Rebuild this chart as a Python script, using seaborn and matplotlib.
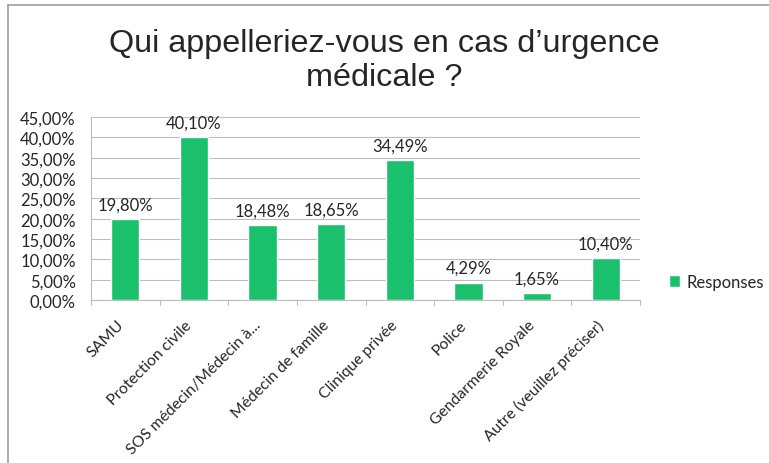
import pandas as pd
import seaborn as sns
import matplotlib.pyplot as plt
from matplotlib.lines import Line2D
from matplotlib.ticker import MultipleLocator, FuncFormatter
from matplotlib.transforms import ScaledTranslation

# Data
categories = ['SAMU', 'Protection civile', 'SOS médecin/Médecin à...', 'Médecin de famille',
              'Clinique privée', 'Police', 'Gendarmerie Royale', 'Autre (veuillez préciser)']
responses = [19.80, 40.10, 18.48, 18.65, 34.49, 4.29, 1.65, 10.40]

df = pd.DataFrame({'Categorie': categories, 'Responses': responses})

bar_color = '#1BC06D'

sns.set_style('white')
plt.rcParams['font.family'] = ['Lato', 'DejaVu Sans']

W, H = 769, 464
fig = plt.figure(figsize=(W / 100, H / 100), dpi=100)
ax = fig.add_axes([91 / W, 1 - 301 / H, 549 / W, 183 / H])

sns.barplot(data=df, x='Categorie', y='Responses', color=bar_color, width=0.41,
            ax=ax, saturation=1, label='Responses')

ax.set_ylim(0, 45)
ax.set_xlim(-0.5, len(categories) - 0.5)
ax.yaxis.set_major_locator(MultipleLocator(5))
ax.yaxis.set_major_formatter(FuncFormatter(lambda v, p: f'{v:.2f}'.replace('.', ',') + '%'))
ax.grid(axis='y', color='#BDBDBD', linewidth=0.8)
ax.set_axisbelow(True)
for s in ['top', 'right']:
    ax.spines[s].set_visible(False)
ax.spines['left'].set_color('#BDBDBD')
ax.spines['bottom'].set_color('#BDBDBD')
ax.tick_params(axis='y', length=5, color='#BDBDBD', labelsize=12, pad=6)
ax.tick_params(axis='x', length=0, labelsize=11.3, pad=4)
ax.set_xticks(range(len(categories)))
ax.set_xticklabels(categories, rotation=45, ha='right', rotation_mode='anchor')
shift = ScaledTranslation(-9 / 100, -12 / 100, fig.dpi_scale_trans)
for lab in ax.get_xticklabels():
    lab.set_transform(lab.get_transform() + shift)
ax.set_xlabel('')
ax.set_ylabel('')

# category separator ticks on x axis
for i in range(len(categories) + 1):
    ax.plot([i - 0.5, i - 0.5], [0, -1.2], color='#BDBDBD', lw=0.8, clip_on=False)

# data labels
for i, v in enumerate(responses):
    ax.text(i, v + 1.6, f'{v:.2f}'.replace('.', ',') + '%', ha='center', va='bottom', fontsize=12)

ax.legend(loc='center left', bbox_to_anchor=(1.052, 0.1), frameon=False, borderaxespad=0,
          borderpad=0, handlelength=0.7, handleheight=0.7, fontsize=12, handletextpad=0.4)

fig.text(0.5, 1 - 61 / H, 'Qui appelleriez-vous en cas d’urgence\nmédicale ?', ha='center',
         va='center', fontsize=23.3, family='Liberation Sans', linespacing=1.2)

# frame lines (top and left only)
fig.add_artist(Line2D([8 / W, 1], [1 - 6 / H, 1 - 6 / H], transform=fig.transFigure,
                      color='#9E9E9E', lw=1.2))
fig.add_artist(Line2D([8 / W, 8 / W], [0, 1 - 6 / H], transform=fig.transFigure,
                      color='#9E9E9E', lw=1.2))

fig.savefig('out.png', dpi=100)
